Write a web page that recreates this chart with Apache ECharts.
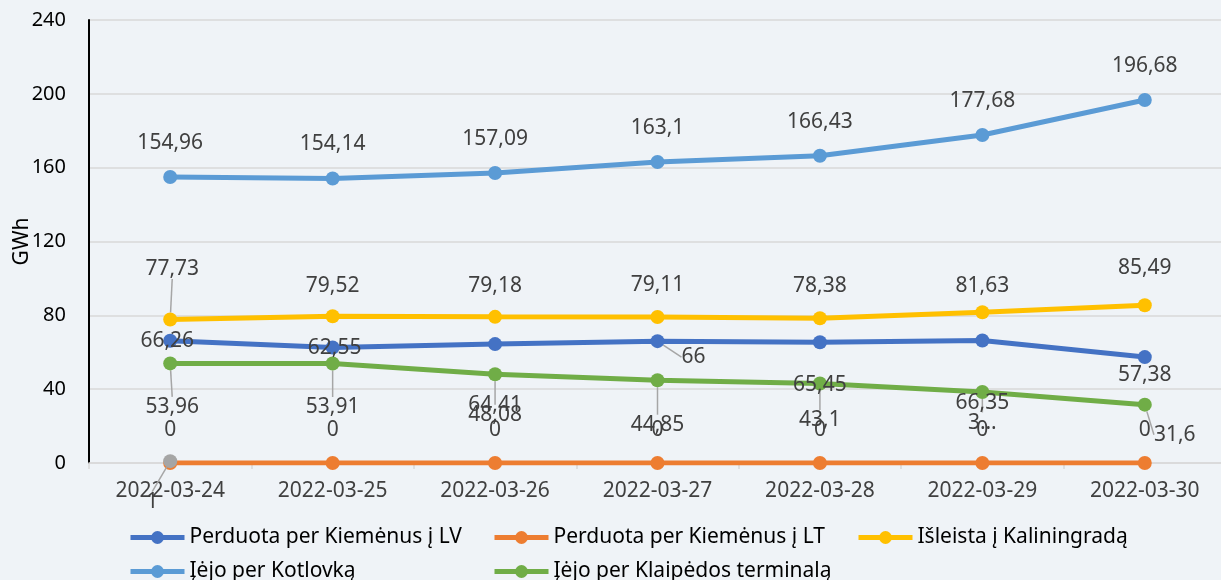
<!DOCTYPE html>
<html>
<head>
<meta charset="utf-8">
<script src="https://cdn.jsdelivr.net/npm/echarts@6/dist/echarts.min.js"></script>
<style>
  html, body { margin: 0; padding: 0; background: #EFF3F7; }
  #chart { width: 1221px; height: 580px; }
</style>
</head>
<body>
<div id="chart"></div>
<script>
// kategorijos (datos)
var dates = ['2022-03-24', '2022-03-25', '2022-03-26', '2022-03-27', '2022-03-28', '2022-03-29', '2022-03-30'];

// serijų pavadinimai
var names = ['Perduota per Kiemėnus į LV', 'Perduota per Kiemėnus į LT', 'Išleista į Kaliningradą', 'Įėjo per Kotlovką', 'Įėjo per Klaipėdos terminalą'];

// reikšmės, GWh
var perduotaLV = [66.26, 62.55, 64.41, 66, 65.45, 66.35, 57.38];
var perduotaLT = [0, 0, 0, 0, 0, 0, 0];
var kaliningradas = [77.73, 79.52, 79.18, 79.11, 78.38, 81.63, 85.49];
var kotlovka = [154.96, 154.14, 157.09, 163.1, 166.43, 177.68, 196.68];
var klaipeda = [53.96, 53.91, 48.08, 44.85, 43.1, 38.5, 31.6];
var pilka = [1, null, null, null, null, null, null]; // pilkas taškas be legendos

var yTicks = [0, 40, 80, 120, 160, 200, 240];

// etikečių poslinkiai nuo taško (stilius, ne duomenys)
var offLV = [[-3, 0], [2, 0], [0, 61], [36, 16], [0, 43], [0, 62], [0, 18]];
var offLT = [[0, -33], [0, -33], [0, -33], [0, -33], [0, -33], [0, -33], [0, -33]];
var offKal = [[2, -51], [0, -30], [0, -31], [0, -32], [0, -32], [0, -26], [0, -37]];
var offKot = [[0, -34], [0, -34], [0, -34], [0, -34], [0, -34], [0, -34], [0, -34]];
var offKla = [[2, 44], [0, 44], [0, 41], [0, 45], [0, 37], [0, 31], [30, 30]];
var offPilka = [[-18, 41]];

// kuriems taškams piešiama rodyklės linija
var lineLV = [3];
var lineKal = [0];
var lineKla = [0, 1, 2, 3, 4, 5, 6];
var linePilka = [0];

var colors = ['#4472C4', '#ED7D31', '#FFC000', '#5B9BD5', '#70AD47', '#A5A5A5'];
var font = '"Noto Sans", "Open Sans", sans-serif';

function fmt(p) {
    if (p.seriesIndex === 4 && p.dataIndex === 5) return '3…'; // nukirpta kaip originale
    return String(p.value).replace('.', ',');
}

function makeLayout(offs) {
    return function (params) {
        var o = offs[params.dataIndex] || [0, 0];
        var r = params.rect;
        return {
            x: r.x + r.width / 2 + o[0],
            y: r.y + r.height / 2 + o[1],
            align: 'center',
            verticalAlign: 'middle'
        };
    };
}

function makeSeries(name, data, color, offs, lines, z) {
    var items = data.map(function (v, i) {
        return {
            value: v,
            labelLine: { show: lines.indexOf(i) >= 0 }
        };
    });
    return {
        name: name,
        type: 'line',
        data: items,
        z: z,
        symbol: 'circle',
        symbolSize: 14,
        itemStyle: { color: color },
        lineStyle: { color: color, width: 5 },
        label: {
            show: true,
            position: 'inside',
            formatter: fmt,
            color: '#404040',
            fontSize: 21,
            fontFamily: font
        },
        labelLine: {
            show: false,
            lineStyle: { color: '#A6A6A6', width: 1.5 }
        },
        labelLayout: makeLayout(offs),
        animation: false
    };
}

var myChart = echarts.init(document.getElementById('chart'));

var legendText = {
    fontSize: 21,
    color: '#000',
    fontFamily: font
};

// viena legenda kiekvienam įrašui, kad stulpeliai sutaptų
function makeLegend(name, left, top) {
    return {
        data: [name],
        left: left,
        top: top,
        padding: 0,
        itemWidth: 54,
        itemHeight: 16,
        lineStyle: { width: 5 },
        textStyle: legendText
    };
}

var option = {
    backgroundColor: '#EFF3F7',
    grid: { left: 89, right: -5, top: 20, bottom: 117, outerBoundsMode: 'none' },
    legend: [
        makeLegend(names[0], 128, 527),
        makeLegend(names[1], 492, 527),
        makeLegend(names[2], 856, 527),
        makeLegend(names[3], 128, 561),
        makeLegend(names[4], 492, 561)
    ],
    xAxis: {
        type: 'category',
        data: dates,
        boundaryGap: true,
        axisLine: { show: true, lineStyle: { color: '#D9D9D9', width: 1.5 } },
        axisTick: { show: true, length: 6, lineStyle: { color: '#D9D9D9', width: 1.5 } },
        axisLabel: { color: '#404040', fontSize: 21, fontFamily: font, margin: 18 }
    },
    yAxis: {
        type: 'value',
        min: yTicks[0],
        max: yTicks[yTicks.length - 1],
        interval: 40,
        name: 'GWh',
        nameLocation: 'middle',
        nameGap: 56,
        nameMoveOverlap: false,
        nameTextStyle: { color: '#000', fontSize: 21, fontFamily: font },
        axisLine: { show: true, lineStyle: { color: '#000', width: 2 } },
        axisTick: { show: false },
        axisLabel: { color: '#000', fontSize: 20, fontFamily: font, margin: 23 },
        splitLine: { lineStyle: { color: '#D9D9D9', width: 1.5 } }
    },
    series: [
        makeSeries(names[0], perduotaLV, colors[0], offLV, lineLV, 2),
        makeSeries(names[1], perduotaLT, colors[1], offLT, [], 2),
        makeSeries(names[2], kaliningradas, colors[2], offKal, lineKal, 2),
        makeSeries(names[3], kotlovka, colors[3], offKot, [], 2),
        makeSeries(names[4], klaipeda, colors[4], offKla, lineKla, 2),
        makeSeries('pilka', pilka, colors[5], offPilka, linePilka, 3)
    ]
};

myChart.setOption(option);
</script>
</body>
</html>
